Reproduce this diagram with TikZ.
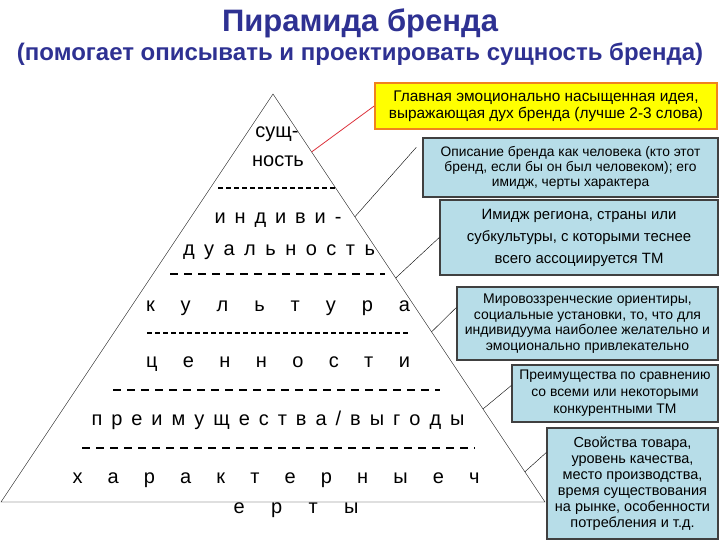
\documentclass[tikz,border=0pt]{standalone}
\usepackage{fontspec}
\setmainfont{Liberation Sans}
\usetikzlibrary{calc}

\definecolor{titleblue}{RGB}{46,49,146}
\definecolor{ideafill}{RGB}{255,255,0}
\definecolor{idealine}{RGB}{240,130,30}
\definecolor{notefill}{RGB}{183,221,232}
\definecolor{noteline}{RGB}{64,64,64}
\definecolor{linkred}{RGB}{220,50,60}

\newcommand{\spreadtext}[2]{\makebox[#1][s]{#2}}

\tikzset{
  note/.style={rectangle, draw=noteline, line width=1.4pt, fill=notefill, align=center, inner sep=2pt},
  layer/.style={anchor=base, inner sep=0pt, font=\fontsize{20}{24}\selectfont},
  densesep/.style={line width=1.3pt, dash pattern=on 5pt off 3pt},
  widesep/.style={line width=1.3pt, dash pattern=on 8pt off 6pt},
}

\begin{document}
\begin{tikzpicture}[x=1pt, y=-1pt]
    \useasboundingbox (0,0) rectangle (720,540);

    % Title
    \node[anchor=base, text=titleblue, font=\bfseries\fontsize{31}{33}\selectfont] (title) at (360,32) {Пирамида бренда};
    \node[anchor=base, text=titleblue, font=\bfseries\fontsize{24}{26}\selectfont] (subtitle) at (360,61) {(помогает описывать и проектировать сущность бренда)};

    % Pyramid
    \coordinate (top) at (273,94);
    \coordinate (left) at (1,502);
    \coordinate (right) at (545,502);
    \draw (top) -- (right) -- (left) -- cycle;

    % Layers
    \node[layer] (essence1) at (277,138) {сущ-};
    \node[layer] (essence2) at (278,167) {ность};
    \draw[densesep] (218,188) -- (337,188);
    \node[layer] (person1) at (278,223) {\spreadtext{127pt}{и н д и в и -}};
    \node[layer] (person2) at (279,255) {\spreadtext{192pt}{д у а л ь н о с т ь}};
    \draw[widesep] (170,274) -- (385,274);
    \node[layer] (culture) at (278,311) {\spreadtext{264pt}{к у л ь т у р а}};
    \draw[densesep] (147,333) -- (408,333);
    \node[layer] (values) at (278,367) {\spreadtext{264pt}{ц е н н о с т и}};
    \draw[widesep] (113,390) -- (440,390);
    \node[layer] (benefits) at (278,425) {\spreadtext{373pt}{п р е и м у щ е с т в а / в ы г о д ы}};
    \draw[widesep] (82,448) -- (475,448);
    \node[layer] (traits1) at (276,483) {\spreadtext{407pt}{х а р а к т е р н ы е ч}};
    \node[layer] (traits2) at (296,513) {\spreadtext{125pt}{е р т ы}};

    % Notes
    \node[rectangle, draw=idealine, line width=1.6pt, fill=ideafill, align=center, minimum width=342pt, minimum height=46pt, font=\fontsize{15.4}{17}\selectfont] (idea) at (546,106) {Главная эмоционально насыщенная идея,\\выражающая дух бренда (лучше 2-3 слова)};
    \node[note, minimum width=295pt, minimum height=59pt, font=\fontsize{13.8}{15}\selectfont] (personNote) at (570.5,167.5) {Описание бренда как человека (кто этот\\бренд, если бы он был человеком); его\\имидж, черты характера};
    \node[note, minimum width=278pt, minimum height=75pt, font=\fontsize{14.9}{22}\selectfont] (cultureNote) at (579,237.5) {Имидж региона, страны или\\субкультуры, с которыми теснее\\всего ассоциируется ТМ};
    \node[note, minimum width=261pt, minimum height=73pt, font=\fontsize{14}{15.5}\selectfont] (valuesNote) at (587.5,323.5) {Мировоззренческие ориентиры,\\социальные установки, то, что для\\индивидуума наиболее желательно и\\эмоционально привлекательно};
    \node[note, minimum width=206pt, minimum height=57pt, font=\fontsize{13.9}{17}\selectfont] (benefitsNote) at (615,393.5) {Преимущества по сравнению\\со всеми или некоторыми\\конкурентными ТМ};
    \node[note, minimum width=171pt, minimum height=111pt, font=\fontsize{14.5}{16}\selectfont] (traitsNote) at (632.5,483.5) {Свойства товара,\\уровень качества,\\место производства,\\время существования\\на рынке, особенности\\потребления и т.д.};

    % Connections
    \coordinate (p1) at ($(top)!0.142!(right)$);
    \coordinate (p2) at ($(top)!0.301!(right)$);
    \coordinate (p3) at ($(top)!0.451!(right)$);
    \coordinate (p4) at ($(top)!0.583!(right)$);
    \coordinate (p5) at ($(top)!0.772!(right)$);
    \coordinate (p6) at ($(top)!0.926!(right)$);
    \draw[linkred, line width=0.8pt] (p1) -- (idea.west);
    \draw (p2) -- ([xshift=-6pt, yshift=-10pt]personNote.north west);
    \draw (p3) -- (cultureNote.west);
    \draw (p4) -- ([yshift=16pt]valuesNote.west);
    \draw (p5) -- ([yshift=8pt]benefitsNote.west);
    \draw (p6) -- ([yshift=31pt]traitsNote.west);
\end{tikzpicture}
\end{document}
